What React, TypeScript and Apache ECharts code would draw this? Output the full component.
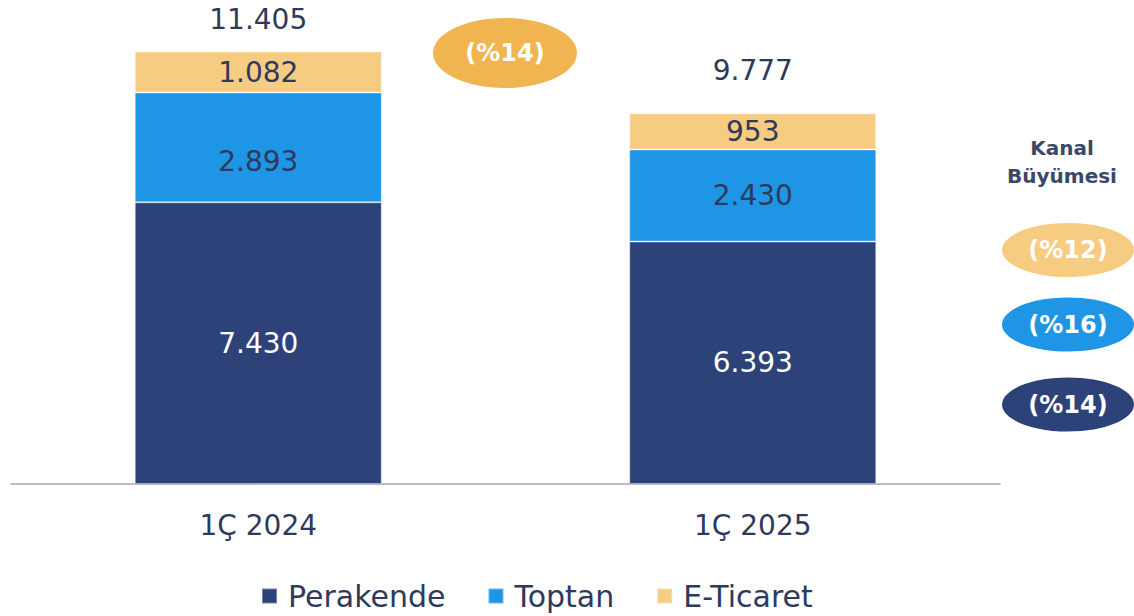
import React, { useEffect, useRef } from "react";
import * as echarts from "echarts";

const categories = ["1Ç 2024", "1Ç 2025"];
const perakende = [7430, 6393];
const toptan = [2893, 2430];
const eticaret = [1082, 953];
const totals = [11405, 9777];
const seriesNames = ["Perakende", "Toptan", "E-Ticaret"];
const growthTotal = "(%14)";
const growthChannels = ["(%12)", "(%16)", "(%14)"];
const growthTitle = "Kanal\nBüyümesi";

const DARK = "#2E427A";
const BLUE = "#1E95E5";
const YELLOW = "#F6CB82";
const ORANGE = "#F0B450";
const TEXT = "#2E3A5C";
const FONT = "DejaVu Sans";

const fmt = (v: number) => v.toLocaleString("de-DE");

export default function App() {
  const ref = useRef<HTMLDivElement>(null);
  useEffect(() => {
    if (!ref.current) return;
    const chart = echarts.init(ref.current, null, { renderer: "svg" });
    const barBase = {
      type: "bar",
      stack: "total",
      barWidth: 247,
      itemStyle: { borderColor: "rgba(255,255,255,0.35)", borderWidth: 1 },
    };
    const lbl = (color: string) => ({
      show: true,
      position: "inside",
      color,
      fontSize: 28,
      fontFamily: FONT,
      formatter: (p: any) => fmt(p.value),
    });
    chart.setOption({
      animation: false,
      textStyle: { fontFamily: FONT },
      grid: { left: 11, right: 134, top: 29, bottom: 132 },
      xAxis: {
        type: "category",
        data: categories,
        axisLine: { show: true, lineStyle: { color: "#A3A6B4", width: 1.5 } },
        axisTick: { show: false },
        axisLabel: { color: TEXT, fontSize: 28, fontFamily: FONT, margin: 27 },
      },
      yAxis: {
        type: "value",
        min: 0,
        max: 12000,
        show: false,
        splitLine: { show: false },
      },
      legend: {
        data: seriesNames,
        left: 256,
        top: 576,
        icon: "rect",
        itemWidth: 15,
        itemHeight: 15,
        itemGap: 42,
        textStyle: { color: TEXT, fontSize: 30, fontFamily: FONT, padding: [0, 0, 0, 6] },
      },
      series: [
        {
          ...barBase,
          name: seriesNames[0],
          data: perakende,
          itemStyle: { ...barBase.itemStyle, color: DARK },
          label: lbl("#FFFFFF"),
        },
        {
          ...barBase,
          name: seriesNames[1],
          data: toptan.map((v, i) =>
            i === 0 ? { value: v, label: { offset: [0, 14] } } : v
          ),
          itemStyle: { ...barBase.itemStyle, color: BLUE },
          label: lbl(TEXT),
        },
        {
          ...barBase,
          name: seriesNames[2],
          data: eticaret,
          itemStyle: { ...barBase.itemStyle, color: YELLOW },
          label: lbl(TEXT),
        },
        {
          type: "bar",
          stack: "total",
          barWidth: 247,
          name: "total",
          data: totals.map((t, i) =>
            i === 1 ? { value: 0, label: { offset: [0, -11] } } : { value: 0 }
          ),
          itemStyle: { color: "transparent" },
          silent: true,
          label: {
            show: true,
            position: "top",
            distance: 18,
            color: TEXT,
            fontSize: 28,
            fontFamily: FONT,
            formatter: (p: any) => fmt(totals[p.dataIndex]),
          },
        },
      ],
      graphic: [
        {
          type: "ellipse",
          shape: { cx: 505, cy: 53, rx: 72, ry: 35 },
          style: { fill: ORANGE },
        },
        {
          type: "text",
          x: 505,
          y: 53,
          style: {
            text: growthTotal,
            fill: "#FFFFFF",
            font: `bold 24px "${FONT}"`,
            textAlign: "center",
            textVerticalAlign: "middle",
          },
        },
        {
          type: "text",
          x: 1062,
          y: 162,
          style: {
            text: growthTitle,
            fill: "#3B4868",
            font: `bold 20px "${FONT}"`,
            lineHeight: 28,
            textAlign: "center",
            textVerticalAlign: "middle",
          },
        },
        ...growthChannels.flatMap((g, i) => {
          const cy = [250, 324.5, 404.5][i];
          const fill = [YELLOW, BLUE, DARK][i];
          return [
            { type: "ellipse", shape: { cx: 1068, cy, rx: 66, ry: 27 }, style: { fill } },
            {
              type: "text",
              x: 1068,
              y: cy,
              style: {
                text: g,
                fill: "#FFFFFF",
                font: `bold 24px "${FONT}"`,
                textAlign: "center",
                textVerticalAlign: "middle",
              },
            },
          ];
        }),
      ],
    });
    return () => chart.dispose();
  }, []);
  return (
    <div
      ref={ref}
      style={{ position: "fixed", left: 0, top: 0, width: 1134, height: 616, background: "#fff" }}
    />
  );
}
